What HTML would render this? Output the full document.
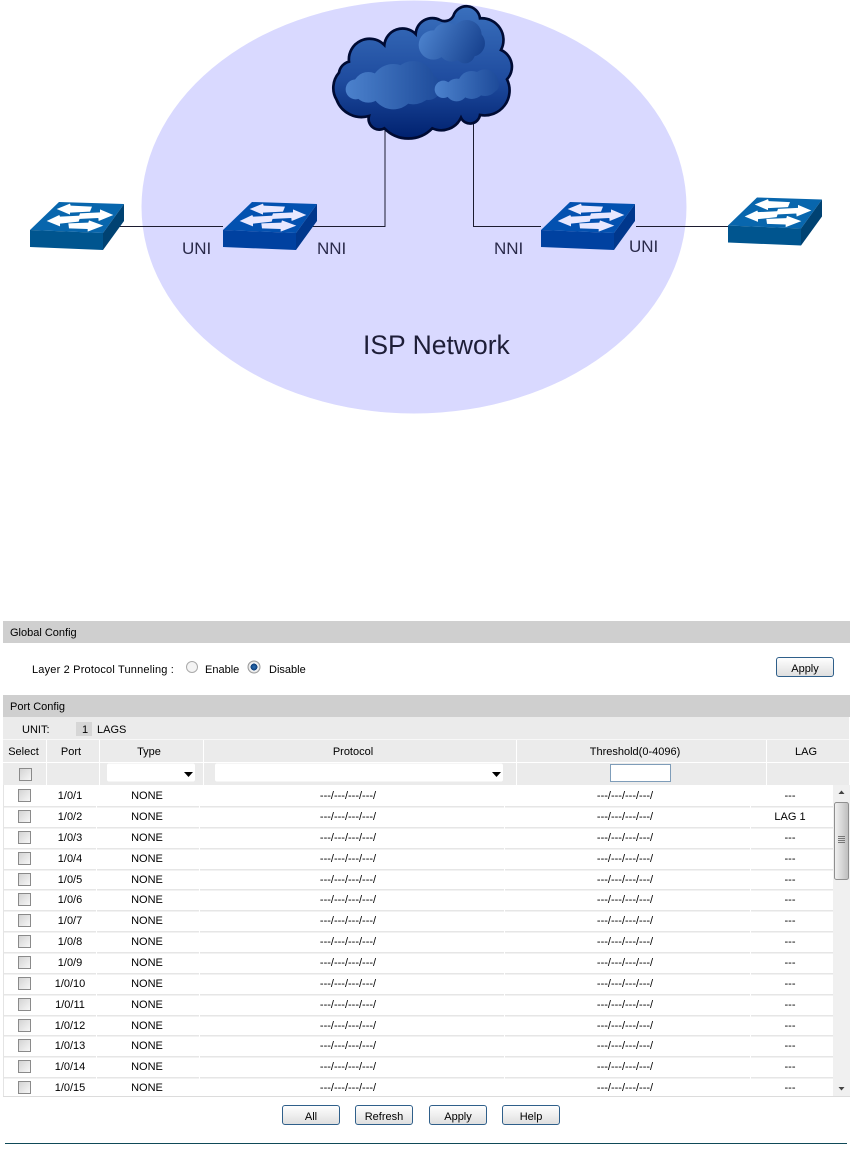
<!DOCTYPE html>
<html><head><meta charset="utf-8">
<style>
html,body{margin:0;padding:0;background:#fff}
svg{display:block}
text{font-family:"Liberation Sans",Arial,sans-serif;font-size:11px;fill:#000}
.m{text-anchor:middle}
.d{font-size:17px;fill:#2a2a4a}
</style></head><body>
<svg width="852" height="1151" viewBox="0 0 852 1151" xmlns="http://www.w3.org/2000/svg">
<defs>
<linearGradient id="cl" x1="0" y1="0" x2="0" y2="1"><stop offset="0" stop-color="#3a70bd"/><stop offset=".55" stop-color="#1f4c9f"/><stop offset="1" stop-color="#00216f"/></linearGradient>
<linearGradient id="p1" gradientUnits="userSpaceOnUse" x1="60" y1="260" x2="350" y2="260"><stop offset="0" stop-color="#4c82cd"/><stop offset="1" stop-color="#1d4a99"/></linearGradient>
<linearGradient id="p2" gradientUnits="userSpaceOnUse" x1="290" y1="90" x2="470" y2="180"><stop offset="0" stop-color="#4c82cd"/><stop offset="1" stop-color="#153f8c"/></linearGradient>
<linearGradient id="p3" gradientUnits="userSpaceOnUse" x1="330" y1="260" x2="525" y2="260"><stop offset="0" stop-color="#4c82cd"/><stop offset="1" stop-color="#1d4a99"/></linearGradient>
<linearGradient id="btn" x1="0" y1="0" x2="0" y2="1"><stop offset="0" stop-color="#fff"/><stop offset="1" stop-color="#dedede"/></linearGradient>
<linearGradient id="cb" x1="0" y1="0" x2="1" y2="1"><stop offset="0" stop-color="#d2d2d2"/><stop offset="1" stop-color="#f8f8f8"/></linearGradient>
<linearGradient id="th" x1="0" y1="0" x2="1" y2="0"><stop offset="0" stop-color="#f2f2f2"/><stop offset="1" stop-color="#bdbdbd"/></linearGradient>
<radialGradient id="rd"><stop offset="0" stop-color="#2b6fb5"/><stop offset=".55" stop-color="#0f3f7a"/><stop offset=".6" stop-color="#fff"/><stop offset="1" stop-color="#d5d5d5"/></radialGradient>
<g id="arrows">
<path d="M110 42L150 26L152 32L216 35L210 50L150 53L150 59Z"/>
<path d="M280 60L240 43L240 52L180 55L174 72L235 69L236 78Z"/>
<path d="M80 78L118 60L120 65L182 62L176 80L120 86L120 94Z"/>
<path d="M250 92L207 76L205 83L145 85L147 100L203 102L203 110Z"/>
</g>
<g id="btnr"><rect x=".5" y=".5" width="57" height="19" rx="2.5" fill="url(#btn)" stroke="#2f5f8a"/></g>
<g id="chk"><rect x=".5" y=".5" width="12" height="12" fill="url(#cb)" stroke="#8a8a8a"/></g>
</defs>

<ellipse cx="414" cy="207" rx="272.5" ry="206.5" fill="#d9d9ff"/>

<!-- connectors -->
<g fill="none" stroke="#1c1c30" stroke-width="1">
<path d="M118 226.500H223"/>
<path d="M310 226.500H385V125"/>
<path d="M473.500 120V226.500H541"/>
<path d="M636 226.500H728"/>
</g>

<!-- cloud -->
<g transform="translate(325 0) scale(.3333)">
<path d="M35 300A70 70 0 0 1 42 218A40 40 0 0 1 72 185A62 62 0 0 1 178 135A55 55 0 0 1 272 102A50 50 0 0 1 345 60A30 30 0 0 0 385 48A41 41 0 0 1 465 55A65 65 0 0 1 528 150A55 55 0 0 1 546 238A75 75 0 0 1 465 345A30 30 0 0 1 408 353A65 65 0 0 1 322 385A100 100 0 0 1 178 385A32 32 0 0 1 132 348A80 80 0 0 1 35 300Z" fill="url(#cl)" stroke="#000b33" stroke-width="8"/>
<g fill="url(#p1)">
<circle cx="92" cy="268" r="30"/><circle cx="130" cy="262" r="46"/><circle cx="205" cy="260" r="68"/><circle cx="265" cy="248" r="65"/><circle cx="310" cy="262" r="38"/>
</g>
<g fill="url(#p2)">
<circle cx="325" cy="135" r="44"/><circle cx="365" cy="110" r="42"/><circle cx="425" cy="105" r="45"/><circle cx="440" cy="130" r="40"/><circle cx="380" cy="145" r="40"/><circle cx="420" cy="160" r="30"/>
</g>
<g fill="url(#p3)">
<circle cx="355" cy="268" r="26"/><circle cx="395" cy="270" r="34"/><circle cx="440" cy="255" r="42"/><circle cx="480" cy="248" r="40"/><circle cx="500" cy="255" r="22"/>
</g>
</g>

<!-- switches -->
<g>
<path d="M30 230L59 202L124 204L103 233Z" fill="#0866ad"/>
<path d="M30 230L103 233V250L30 247Z" fill="#00558f"/>
<path d="M103 233L124 204V221L103 250Z" fill="#004272"/>
<g transform="translate(20 195) scale(.3333)" fill="#fff"><use href="#arrows"/></g>
</g>
<g transform="translate(193 0)">
<path d="M30 230L59 202L124 204L103 233Z" fill="#0351b0"/>
<path d="M30 230L103 233V250L30 247Z" fill="#0041a0"/>
<path d="M103 233L124 204V221L103 250Z" fill="#00378c"/>
<g transform="translate(20 195) scale(.3333)" fill="#e8e8ff"><use href="#arrows"/></g>
</g>
<g transform="translate(511 0)">
<path d="M30 230L59 202L124 204L103 233Z" fill="#0351b0"/>
<path d="M30 230L103 233V250L30 247Z" fill="#0041a0"/>
<path d="M103 233L124 204V221L103 250Z" fill="#00378c"/>
<g transform="translate(20 195) scale(.3333)" fill="#e8e8ff"><use href="#arrows"/></g>
</g>
<g transform="translate(698 -4.500)">
<path d="M30 230L59 202L124 204L103 233Z" fill="#0866ad"/>
<path d="M30 230L103 233V250L30 247Z" fill="#00558f"/>
<path d="M103 233L124 204V221L103 250Z" fill="#004272"/>
<g transform="translate(20 195) scale(.3333)" fill="#fff"><use href="#arrows"/></g>
</g>

<text class="d" x="182" y="254">UNI</text>
<text class="d" x="317" y="254">NNI</text>
<text class="d" x="494" y="254">NNI</text>
<text class="d" x="629" y="252">UNI</text>
<text x="363" y="354" style="font-size:26.500px;fill:#1e1e38">ISP Network</text>

<!-- Global config -->
<rect x="3" y="621" width="847" height="22" fill="#cfcfcf"/>
<text x="10" y="636">Global Config</text>
<text x="32" y="673" style="letter-spacing:.18px">Layer 2 Protocol Tunneling :</text>
<circle cx="192" cy="667" r="5.500" fill="#f4f4f4" stroke="#aaa"/>
<text x="205" y="673">Enable</text>
<circle cx="254" cy="667" r="6" fill="url(#rd)" stroke="#9a9a9a"/>
<text x="269" y="673">Disable</text>
<g transform="translate(776 657)"><use href="#btnr"/><text class="m" x="29" y="15">Apply</text></g>

<!-- Port config -->
<rect x="3" y="695" width="847" height="22" fill="#cfcfcf"/>
<text x="10" y="710">Port Config</text>
<rect x="3" y="717" width="846" height="68" fill="#ebebeb"/>
<text x="22" y="733">UNIT:</text>
<rect x="76" y="722" width="16" height="14" fill="#d6d6d6"/>
<text class="m" x="85" y="733">1</text>
<text x="97" y="733">LAGS</text>
<rect x="3" y="739" width="846" height="1" fill="#f8f8f8"/>
<rect x="3" y="762" width="846" height="1" fill="#fff"/>
<g fill="#fff">
<rect x="46" y="740" width="1" height="45"/>
<rect x="99" y="740" width="1" height="45"/>
<rect x="203" y="740" width="1" height="45"/>
<rect x="516" y="740" width="1" height="45"/>
<rect x="766" y="740" width="1" height="45"/>
</g>
<text class="m" x="23.500" y="755">Select</text>
<text class="m" x="71" y="755">Port</text>
<text class="m" x="149" y="755">Type</text>
<text class="m" x="353" y="755">Protocol</text>
<text class="m" x="635" y="755">Threshold(0-4096)</text>
<text class="m" x="806" y="755">LAG</text>
<use href="#chk" x="19" y="768"/>
<rect x="107" y="763.500" width="88" height="18" rx="2" fill="#fff"/>
<path d="M184 772H193L188.500 777Z" fill="#000"/>
<rect x="215" y="763.500" width="288" height="18" rx="2" fill="#fff"/>
<path d="M492 772H501L496.500 777Z" fill="#000"/>
<rect x="610.500" y="764.500" width="60" height="17" fill="#fff" stroke="#7f9db9"/>

<!-- rows -->
<rect x="3" y="785" width="830" height="311" fill="#fff"/>
<rect x="3" y="785" width="1" height="311" fill="#e4e4e4"/>
<rect x="3" y="1096" width="847" height="1" fill="#dcdcdc"/>
<g fill="#e6e6e6">
<rect x="4" y="806" width="829" height="1.500"/><rect x="4" y="827" width="829" height="1.500"/>
<rect x="4" y="848" width="829" height="1.500"/><rect x="4" y="869" width="829" height="1.500"/>
<rect x="4" y="889" width="829" height="1.500"/><rect x="4" y="910" width="829" height="1.500"/>
<rect x="4" y="931" width="829" height="1.500"/><rect x="4" y="952" width="829" height="1.500"/>
<rect x="4" y="973" width="829" height="1.500"/><rect x="4" y="994" width="829" height="1.500"/>
<rect x="4" y="1015" width="829" height="1.500"/><rect x="4" y="1035" width="829" height="1.500"/>
<rect x="4" y="1056" width="829" height="1.500"/><rect x="4" y="1077" width="829" height="1.500"/>
</g>
<g fill="#fff"><rect x="96" y="785" width="1" height="311"/><rect x="199" y="785" width="1" height="311"/><rect x="504" y="785" width="1" height="311"/><rect x="750" y="785" width="1" height="311"/></g>

<use href="#chk" x="18" y="789"/><text class="m" x="70" y="799">1/0/1</text><text class="m" x="147" y="799">NONE</text><text class="m" x="348" y="799">---/---/---/---/</text><text class="m" x="625" y="799">---/---/---/---/</text><text class="m" x="790" y="799">---</text>
<use href="#chk" x="18" y="810"/><text class="m" x="70" y="820">1/0/2</text><text class="m" x="147" y="820">NONE</text><text class="m" x="348" y="820">---/---/---/---/</text><text class="m" x="625" y="820">---/---/---/---/</text><text class="m" x="790" y="820">LAG 1</text>
<use href="#chk" x="18" y="831"/><text class="m" x="70" y="841">1/0/3</text><text class="m" x="147" y="841">NONE</text><text class="m" x="348" y="841">---/---/---/---/</text><text class="m" x="625" y="841">---/---/---/---/</text><text class="m" x="790" y="841">---</text>
<use href="#chk" x="18" y="852"/><text class="m" x="70" y="862">1/0/4</text><text class="m" x="147" y="862">NONE</text><text class="m" x="348" y="862">---/---/---/---/</text><text class="m" x="625" y="862">---/---/---/---/</text><text class="m" x="790" y="862">---</text>
<use href="#chk" x="18" y="873"/><text class="m" x="70" y="883">1/0/5</text><text class="m" x="147" y="883">NONE</text><text class="m" x="348" y="883">---/---/---/---/</text><text class="m" x="625" y="883">---/---/---/---/</text><text class="m" x="790" y="883">---</text>
<use href="#chk" x="18" y="893"/><text class="m" x="70" y="903">1/0/6</text><text class="m" x="147" y="903">NONE</text><text class="m" x="348" y="903">---/---/---/---/</text><text class="m" x="625" y="903">---/---/---/---/</text><text class="m" x="790" y="903">---</text>
<use href="#chk" x="18" y="914"/><text class="m" x="70" y="924">1/0/7</text><text class="m" x="147" y="924">NONE</text><text class="m" x="348" y="924">---/---/---/---/</text><text class="m" x="625" y="924">---/---/---/---/</text><text class="m" x="790" y="924">---</text>
<use href="#chk" x="18" y="935"/><text class="m" x="70" y="945">1/0/8</text><text class="m" x="147" y="945">NONE</text><text class="m" x="348" y="945">---/---/---/---/</text><text class="m" x="625" y="945">---/---/---/---/</text><text class="m" x="790" y="945">---</text>
<use href="#chk" x="18" y="956"/><text class="m" x="70" y="966">1/0/9</text><text class="m" x="147" y="966">NONE</text><text class="m" x="348" y="966">---/---/---/---/</text><text class="m" x="625" y="966">---/---/---/---/</text><text class="m" x="790" y="966">---</text>
<use href="#chk" x="18" y="977"/><text class="m" x="70" y="987">1/0/10</text><text class="m" x="147" y="987">NONE</text><text class="m" x="348" y="987">---/---/---/---/</text><text class="m" x="625" y="987">---/---/---/---/</text><text class="m" x="790" y="987">---</text>
<use href="#chk" x="18" y="998"/><text class="m" x="70" y="1008">1/0/11</text><text class="m" x="147" y="1008">NONE</text><text class="m" x="348" y="1008">---/---/---/---/</text><text class="m" x="625" y="1008">---/---/---/---/</text><text class="m" x="790" y="1008">---</text>
<use href="#chk" x="18" y="1019"/><text class="m" x="70" y="1029">1/0/12</text><text class="m" x="147" y="1029">NONE</text><text class="m" x="348" y="1029">---/---/---/---/</text><text class="m" x="625" y="1029">---/---/---/---/</text><text class="m" x="790" y="1029">---</text>
<use href="#chk" x="18" y="1039"/><text class="m" x="70" y="1049">1/0/13</text><text class="m" x="147" y="1049">NONE</text><text class="m" x="348" y="1049">---/---/---/---/</text><text class="m" x="625" y="1049">---/---/---/---/</text><text class="m" x="790" y="1049">---</text>
<use href="#chk" x="18" y="1060"/><text class="m" x="70" y="1070">1/0/14</text><text class="m" x="147" y="1070">NONE</text><text class="m" x="348" y="1070">---/---/---/---/</text><text class="m" x="625" y="1070">---/---/---/---/</text><text class="m" x="790" y="1070">---</text>
<use href="#chk" x="18" y="1081"/><text class="m" x="70" y="1091">1/0/15</text><text class="m" x="147" y="1091">NONE</text><text class="m" x="348" y="1091">---/---/---/---/</text><text class="m" x="625" y="1091">---/---/---/---/</text><text class="m" x="790" y="1091">---</text>

<!-- scrollbar -->
<rect x="833" y="785" width="17" height="311" fill="#f0f0f0"/>
<path d="M838.500 794L841.500 790.500L844.500 794Z" fill="#444"/>
<path d="M838.500 1087L841.500 1090.500L844.500 1087Z" fill="#444"/>
<rect x="834.500" y="802.500" width="14" height="77" rx="2" fill="url(#th)" stroke="#8f8f8f"/>
<path d="M838 836.500H845M838 838.500H845M838 840.500H845M838 842.500H845" stroke="#777" stroke-width="1"/>

<!-- bottom buttons -->
<g transform="translate(282 1105)"><use href="#btnr"/><text class="m" x="29" y="15">All</text></g>
<g transform="translate(355 1105)"><use href="#btnr"/><text class="m" x="29" y="15">Refresh</text></g>
<g transform="translate(429 1105)"><use href="#btnr"/><text class="m" x="29" y="15">Apply</text></g>
<g transform="translate(502 1105)"><use href="#btnr"/><text class="m" x="29" y="15">Help</text></g>
<rect x="5" y="1143" width="842" height="1" fill="#0f4a58"/>
</svg>
</body></html>
